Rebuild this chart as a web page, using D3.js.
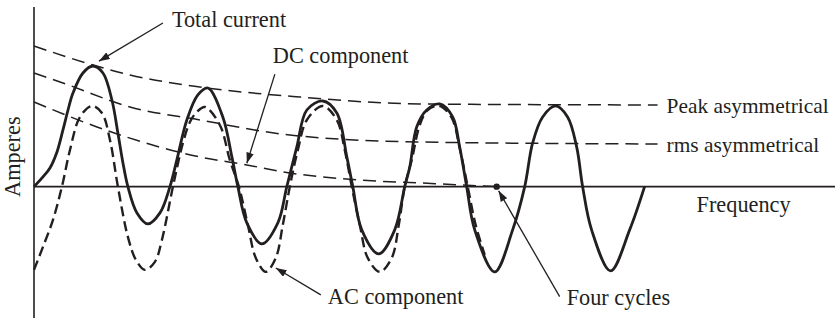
<!DOCTYPE html>
<html>
<head>
<meta charset="utf-8">
<script src="https://cdn.jsdelivr.net/npm/d3@7/dist/d3.min.js"></script>
<style>
  html, body { margin: 0; padding: 0; background: #ffffff; }
  svg { display: block; }
  text { font-family: "Liberation Serif", "Times New Roman", serif; font-size: 22.3px; fill: #231f20; }
  text.right { font-size: 21.4px; }
</style>
</head>
<body>
<svg id="chart" width="835" height="320"></svg>
<script>
// ---- Data (time in cycles, current in per-unit of AC peak) ----
const totalT = [0, 0.070, 0.139, 0.200, 0.252, 0.296, 0.339, 0.426, 0.513, 0.600, 0.678, 0.730, 0.774, 0.817, 0.896, 0.991,
  1.096, 1.183, 1.243, 1.330, 1.426, 1.513, 1.643, 1.722, 1.774, 1.852, 1.983, 2.122, 2.200, 2.287, 2.374, 2.513,
  2.635, 2.722, 2.774, 2.852, 3.000, 3.139, 3.226, 3.270, 3.330, 3.417, 3.530, 3.643, 3.704, 3.765, 3.835, 4.009,
  4.165, 4.270, 4.339, 4.426, 4.539, 4.643, 4.722, 4.774, 4.852, 5.017, 5.183, 5.313];
const totalI = [0, 0.104, 0.223, 0.413, 0.675, 0.913, 1.115, 1.354, 1.437, 1.354, 1.032, 0.639, 0.282, 0, -0.313, -0.444,
  -0.313, 0, 0.318, 0.794, 1.092, 1.175, 0.830, 0.354, 0, -0.432, -0.682, -0.432, 0, 0.473, 0.913, 1.020,
  0.877, 0.354, 0, -0.515, -0.801, -0.515, 0, 0.235, 0.710, 0.913, 0.985, 0.830, 0.473, 0, -0.515, -1.015,
  -0.515, 0, 0.520, 0.830, 0.961, 0.830, 0.473, 0, -0.515, -1.004, -0.515, 0];

const acT = [0, 0.078, 0.165, 0.243, 0.313, 0.400, 0.504, 0.591, 0.661, 0.730, 0.817, 0.887, 0.965, 1.052, 1.113,
  1.209, 1.296, 1.357, 1.417, 1.487, 1.617, 1.704, 1.783, 1.861, 1.930, 2.017, 2.104, 2.165, 2.226, 2.296, 2.374,
  2.513, 2.635, 2.704, 2.765, 2.835, 2.904, 3.009, 3.113, 3.174, 3.226, 3.287, 3.357, 3.426, 3.530, 3.635, 3.704,
  3.774, 3.843, 3.922];
const acI = [-0.992, -0.718, -0.396, 0, 0.437, 0.830, 0.961, 0.877, 0.556, 0, -0.599, -0.873, -0.992, -0.896, -0.635,
  0, 0.520, 0.770, 0.890, 0.949, 0.735, 0.318, 0, -0.456, -0.849, -1.015, -0.849, -0.456, 0, 0.437, 0.794,
  0.961, 0.794, 0.437, 0, -0.456, -0.849, -1.015, -0.849, -0.456, 0, 0.318, 0.735, 0.913, 0.961, 0.818, 0.461,
  0, -0.456, -0.813];

const dcT = [0, 0.548, 1.443, 1.852, 2.226, 2.809, 3.357, 4.026];
const dcI = [1.008, 0.711, 0.354, 0.258, 0.163, 0.080, 0.044, 0];

const peakT = [0, 0.513, 0.835, 1.443, 2.313, 3.357, 5.426];
const peakI = [1.675, 1.449, 1.330, 1.187, 1.068, 0.985, 0.973];

const rmsT = [0, 0.252, 0.835, 1.443, 2.226, 3.357, 5.426];
const rmsI = [1.354, 1.235, 0.949, 0.794, 0.615, 0.532, 0.508];

const fourCycles = [4.026, 0];

// Labels
const axisLabelY = "Amperes";
const axisLabelX = "Frequency";
const labelTotal = "Total current";
const labelDC = "DC component";
const labelAC = "AC component";
const labelFour = "Four cycles";
const labelPeak = "Peak asymmetrical";
const labelRms = "rms asymmetrical";

// ---- Scales ----
const W = 835, H = 320;
const x = d3.scaleLinear().domain([0, 6.97]).range([34, 835]);
const y = d3.scaleLinear().domain([-1.565, 2.14]).range([318, 7]);

const svg = d3.select("#chart");
const ink = "#231f20";

const defs = svg.append("defs");
defs.append("marker")
  .attr("id", "arrow")
  .attr("viewBox", "0 0 10 7")
  .attr("refX", 10).attr("refY", 3.5)
  .attr("markerWidth", 11).attr("markerHeight", 7.5)
  .attr("markerUnits", "userSpaceOnUse")
  .attr("orient", "auto")
  .append("path").attr("d", "M0,0 L10,3.5 L0,7 Z").attr("fill", ink);

const zip = (a, b) => a.map((v, i) => [v, b[i]]);
const envLine = d3.line().x(d => x(d[0])).y(d => y(d[1])).curve(d3.curveMonotoneX);
const waveLine = d3.line().x(d => x(d[0])).y(d => y(d[1])).curve(d3.curveCatmullRom.alpha(0.5));

// Axes
svg.append("line").attr("x1", x(0)).attr("x2", x(0)).attr("y1", y.range()[1]).attr("y2", y.range()[0])
  .attr("stroke", ink).attr("stroke-width", 1.6);
svg.append("line").attr("x1", x(0)).attr("x2", W).attr("y1", y(0)).attr("y2", y(0))
  .attr("stroke", ink).attr("stroke-width", 1.6);

// Envelope lines
[[peakT, peakI], [rmsT, rmsI], [dcT, dcI]].forEach(([t, v]) => {
  svg.append("path").datum(zip(t, v)).attr("d", envLine)
    .attr("fill", "none").attr("stroke", ink)
    .attr("stroke-width", 1.5).attr("stroke-dasharray", "13,7");
});

// AC component
svg.append("path").datum(zip(acT, acI)).attr("d", waveLine)
  .attr("fill", "none").attr("stroke", ink).attr("stroke-width", 2.4)
  .attr("stroke-dasharray", "10,5");

// Total current
svg.append("path").datum(zip(totalT, totalI)).attr("d", waveLine)
  .attr("fill", "none").attr("stroke", ink).attr("stroke-width", 2.8);

// Four cycles dot
svg.append("circle").attr("cx", x(fourCycles[0])).attr("cy", y(fourCycles[1])).attr("r", 3.2).attr("fill", ink);

// Annotations: [from t, from v, to t, to v]
const arrows = [
  [1.122, 1.950, 0.565, 1.495],   // Total current
  [2.096, 1.340, 1.852, 0.278],   // DC component
  [2.496, -1.290, 2.104, -0.970], // AC component
  [4.574, -1.310, 4.043, -0.050]  // Four cycles
];
arrows.forEach(a => {
  svg.append("line")
    .attr("x1", x(a[0])).attr("y1", y(a[1]))
    .attr("x2", x(a[2])).attr("y2", y(a[3]))
    .attr("stroke", ink).attr("stroke-width", 1.3)
    .attr("marker-end", "url(#arrow)");
});

// Text labels: [text, t, v, class]
const labels = [
  [labelTotal, 1.200, 1.900, ""],
  [labelDC, 2.078, 1.475, ""],
  [labelAC, 2.557, -1.398, ""],
  [labelFour, 4.635, -1.410, ""],
  [labelPeak, 5.504, 0.877, "right"],
  [labelRms, 5.504, 0.413, "right"],
  [axisLabelX, 5.765, -0.302, ""]
];
labels.forEach(l => {
  svg.append("text").attr("class", l[3]).attr("x", x(l[1])).attr("y", y(l[2]))
    .attr("text-anchor", "start").text(l[0]);
});

svg.append("text")
  .attr("transform", `translate(20,${y(0.357)}) rotate(-90)`)
  .attr("text-anchor", "middle")
  .text(axisLabelY);
</script>
</body>
</html>
